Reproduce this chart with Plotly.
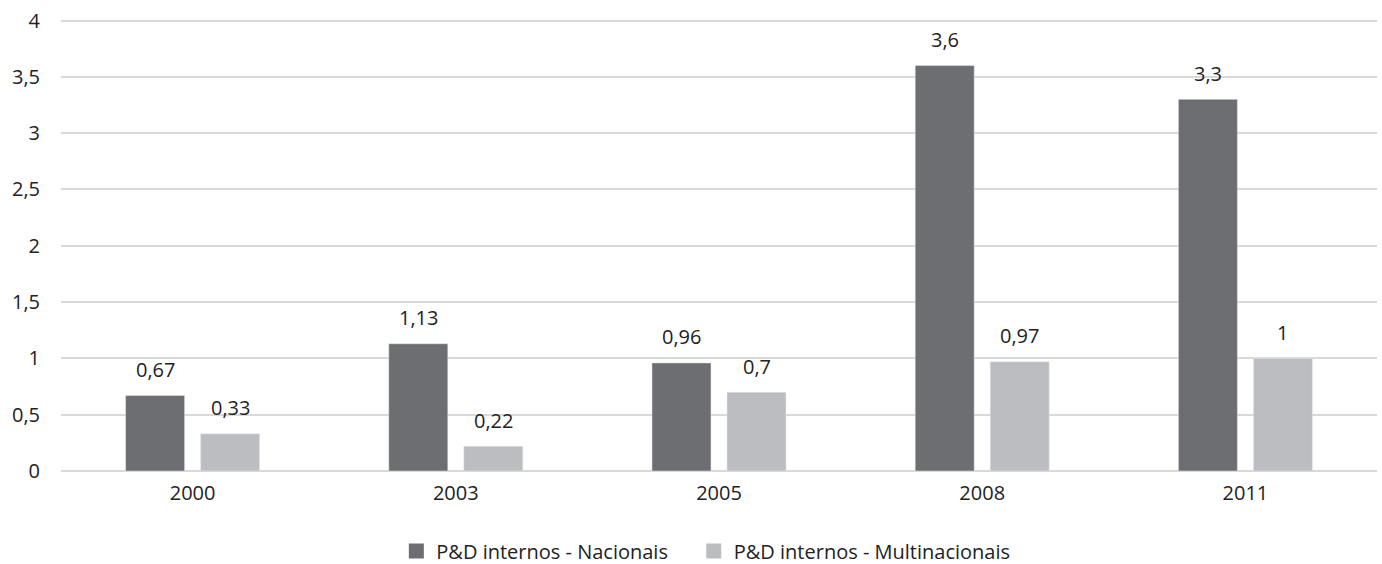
import plotly.graph_objects as go

years = ["2000", "2003", "2005", "2008", "2011"]
nacionais = [0.67, 1.13, 0.96, 3.6, 3.3]
multinacionais = [0.33, 0.22, 0.7, 0.97, 1.0]
series_names = ["P&D internos - Nacionais", "P&D internos - Multinacionais"]
y_ticks = [0, 0.5, 1, 1.5, 2, 2.5, 3, 3.5, 4]

def fmt(v):
    s = ("%g" % v)
    return s.replace(".", ",")

dark = "#6d6e71"
light = "#bcbdc0"
FS = 20

fig = go.Figure()
fig.add_trace(go.Bar(x=years, y=nacionais, name=series_names[0], marker_color=dark,
                     showlegend=False))
fig.add_trace(go.Bar(x=years, y=multinacionais, name=series_names[1], marker_color=light,
                     showlegend=False))
# legend entries with larger square swatches (first one padded for spacing)
legend_labels = [series_names[0] + "\u00a0" * 4, series_names[1]]
for name, col in ((legend_labels[0], dark), (legend_labels[1], light)):
    fig.add_trace(go.Scatter(x=[None], y=[None], mode="markers", name=name,
                             marker=dict(symbol="square", size=15, color=col)))

annotations = []
for vals, shift in ((nacionais, -37.5), (multinacionais, 37.5)):
    for i, v in enumerate(vals):
        annotations.append(dict(x=i, y=v, xref="x", yref="y", text=fmt(v),
                                showarrow=False, xshift=shift, yshift=26,
                                yanchor="middle",
                                font=dict(size=FS, color="#222222")))

fig.update_layout(
    width=1382, height=564,
    margin=dict(l=61, r=5, t=16, b=93, autoexpand=False),
    paper_bgcolor="white", plot_bgcolor="white",
    barmode="group", bargap=0.43, bargroupgap=0.213,
    separators=", ",
    font=dict(family="Open Sans, sans-serif", size=FS, color="#222222"),
    xaxis=dict(type="category", range=[-0.5, 4.5], showgrid=False, showline=False,
               ticks="", tickfont=dict(size=FS), ticklabelstandoff=8, automargin=False),
    yaxis=dict(range=[0, 4.04], tickvals=y_ticks, showgrid=True, gridcolor="#d9d9d9",
               gridwidth=2, zeroline=True, zerolinecolor="#d9d9d9", zerolinewidth=2,
               ticks="", ticklabelstandoff=20, tickfont=dict(size=FS), automargin=False),
    legend=dict(orientation="h", x=0.49, xanchor="center", y=-0.176, yanchor="middle",
                font=dict(size=FS), traceorder="normal", itemsizing="trace"),
    annotations=annotations,
    showlegend=True,
)

fig.write_html("out.html", post_script="document.body.style.margin='0';",
               config={"displayModeBar": False})
